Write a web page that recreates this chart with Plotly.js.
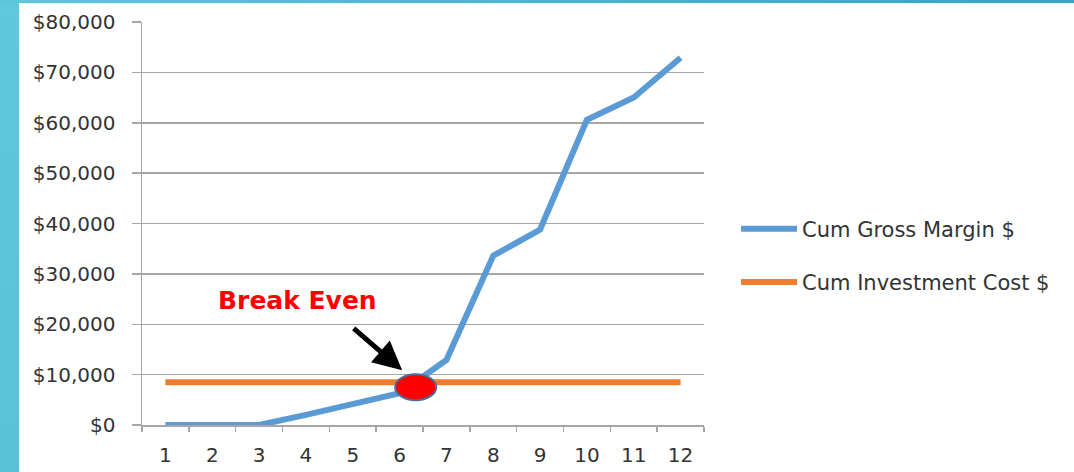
<!DOCTYPE html>
<html>
<head>
<meta charset="utf-8">
<script src="https://cdn.plot.ly/plotly-3.0.1.min.js"></script>
<style>
  html, body { margin: 0; padding: 0; background: #ffffff; }
  #wrap { position: relative; width: 1074px; height: 472px; overflow: hidden; background: #ffffff; }
  #leftStrip { position: absolute; left: 0; top: 0; width: 19px; height: 472px;
    background: linear-gradient(to bottom, #60c8dd, #58c2d8); }
  #topStrip { position: absolute; left: 0; top: 0; width: 1074px; height: 3px;
    background: linear-gradient(to right, #5cc6dc, #35a4c4); }
  #chart { position: absolute; left: 0; top: 0; width: 1074px; height: 472px; }
</style>
</head>
<body>
<div id="wrap">
  <div id="leftStrip"></div>
  <div id="topStrip"></div>
  <div id="chart"></div>
</div>
<script>
// ---- data ----
const months = [1, 2, 3, 4, 5, 6, 7, 8, 9, 10, 11, 12];
const cumGrossMargin = [0, 0, 0, 2000, 4100, 6300, 12900, 33600, 38800, 60600, 65000, 72900];
const cumInvestmentCost = [8500, 8500, 8500, 8500, 8500, 8500, 8500, 8500, 8500, 8500, 8500, 8500];
const seriesNames = ["Cum Gross Margin $", "Cum Investment Cost $"];
const breakEvenLabel = "Break Even";

// ---- break-even point: where cumulative margin crosses investment cost ----
let beX = null, beY = null;
for (let i = 1; i < months.length; i++) {
  const d0 = cumGrossMargin[i - 1] - cumInvestmentCost[i - 1];
  const d1 = cumGrossMargin[i] - cumInvestmentCost[i];
  if (d0 < 0 && d1 >= 0) {
    const t = -d0 / (d1 - d0);
    beX = months[i - 1] + t * (months[i] - months[i - 1]);
    beY = cumInvestmentCost[i - 1] + t * (cumInvestmentCost[i] - cumInvestmentCost[i - 1]);
    break;
  }
}

const tickFont = { family: "DejaVu Sans", size: 20, color: "#333333" };
const gridCol = "#a6a6a6";

const traces = [
  {
    x: months, y: cumGrossMargin, name: seriesNames[0], type: "scatter", mode: "lines",
    line: { color: "#5b9bd5", width: 6 }, legendgroup: "a"
  },
  {
    x: months, y: cumInvestmentCost, name: seriesNames[1], type: "scatter", mode: "lines",
    line: { color: "#ed7d31", width: 6 }, legendgroup: "b"
  }
];

const layout = {
  width: 1074, height: 472,
  margin: { l: 142, r: 370, t: 22, b: 47 },
  paper_bgcolor: "rgba(0,0,0,0)",
  plot_bgcolor: "#ffffff",
  font: tickFont,
  showlegend: true,
  legend: {
    x: 1.057, xanchor: "left", y: 0.537, yanchor: "top",
    font: { family: "DejaVu Sans", size: 21, color: "#333333" },
    traceorder: "grouped", tracegroupgap: 23, itemwidth: 56,
    bgcolor: "rgba(0,0,0,0)"
  },
  xaxis: {
    type: "linear", range: [0.5, 12.5],
    tickmode: "array", tickvals: months, ticktext: months.map(String),
    ticks: "", showgrid: false, zeroline: false,
    showline: true, linecolor: gridCol, linewidth: 1.5,
    tickfont: tickFont, ticklabelstandoff: 11,
    minor: { tick0: 0.5, dtick: 1, ticks: "outside", ticklen: 5, tickcolor: gridCol, tickwidth: 1.5, showgrid: false }
  },
  yaxis: {
    range: [0, 80000], dtick: 10000, tickformat: "$,.0f",
    ticks: "outside", ticklen: 9, tickcolor: gridCol, tickwidth: 1.5,
    showgrid: true, gridcolor: gridCol, gridwidth: 1.5,
    showline: true, linecolor: gridCol, linewidth: 1.5, zeroline: false,
    tickfont: tickFont, ticklabelstandoff: 12
  },
  shapes: [],
  annotations: []
};

if (beX !== null) {
  layout.shapes.push({
    type: "circle", layer: "above",
    xref: "x", yref: "y", xsizemode: "pixel", ysizemode: "pixel",
    xanchor: beX, yanchor: beY,
    x0: -20, x1: 21, y0: -18, y1: 8,
    fillcolor: "#ff0000", line: { color: "#41719c", width: 2 }
  });
  layout.annotations.push({
    x: beX, y: beY, xref: "x", yref: "y",
    xshift: -13, yshift: 12,
    text: "", showarrow: true,
    arrowhead: 2, arrowsize: 1.15, arrowwidth: 5, arrowcolor: "#000000",
    ax: -50, ay: -43
  });
  layout.annotations.push({
    x: beX, y: beY, xref: "x", yref: "y",
    xshift: -118, yshift: 82,
    text: "<b>" + breakEvenLabel + "</b>", showarrow: false,
    font: { family: "DejaVu Sans", size: 25, color: "#ff0000" }
  });
}

Plotly.newPlot("chart", traces, layout, { displayModeBar: false, staticPlot: true });
</script>
</body>
</html>
